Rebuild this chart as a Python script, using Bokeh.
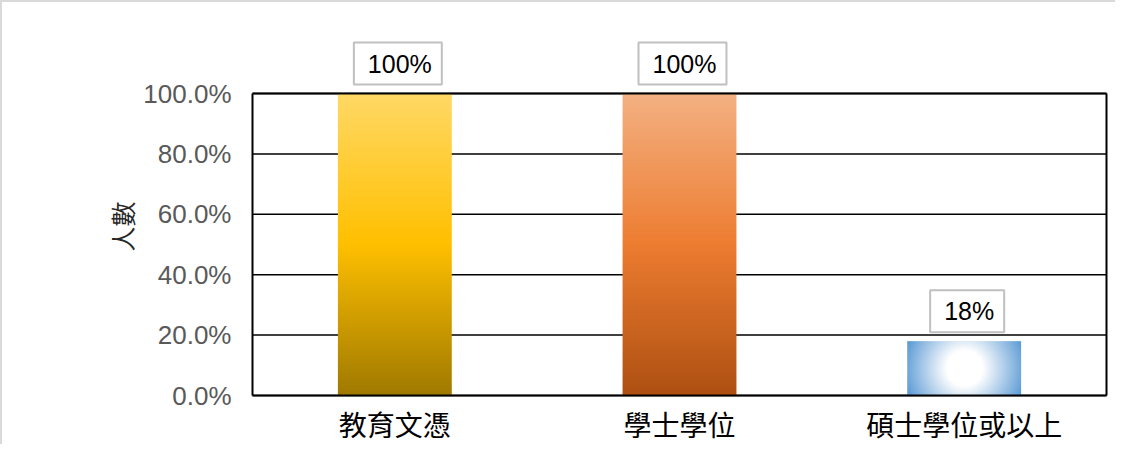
import numpy as np
from bokeh.plotting import figure
from bokeh.models import Range1d, FixedTicker, NumeralTickFormatter, Label
from bokeh.embed import file_html
from bokeh.resources import INLINE

categories = ["教育文憑", "學士學位", "碩士學位或以上"]
values = [1.00, 1.00, 0.18]
value_labels = ["100%", "100%", "18%"]
y_ticks = [0.0, 0.2, 0.4, 0.6, 0.8, 1.0]
y_axis_title = "人數"

# gradient stops (top, middle, bottom) for bars 1 and 2
grad_stops = [
    [(255, 217, 102), (255, 192, 0), (160, 122, 0)],
    [(244, 177, 131), (237, 125, 49), (174, 80, 18)],
]
radial_edge = (91, 155, 213)

# layout (pixels)
W, H = 1115, 444
FL, FR, FT, FB = 246, 7, 4, 0
PAD_PX = 4          # frame extends this far beyond the drawn box on left/right
BOX_TOP, BOX_BOT = 91, 393   # box top / bottom measured from canvas top
BAR_W = 0.4
n = len(categories)

frame_w = W - FL - FR
unit_x = (frame_w - 2 * PAD_PX) / n
pad_x = PAD_PX / unit_x
unit_y = (BOX_BOT - BOX_TOP) / (y_ticks[-1] - y_ticks[0])
y_end = y_ticks[-1] + (BOX_TOP - FT) / unit_y
y_start = y_ticks[0] - (H - FB - BOX_BOT) / unit_y

p = figure(width=W, height=H, x_range=Range1d(-pad_x, n + pad_x),
           y_range=Range1d(y_start, y_end), output_backend="svg", toolbar_location=None,
           min_border_left=FL, min_border_right=FR, min_border_top=FT, min_border_bottom=FB)
p.styles = {"border-left": "2px solid #d9d9d9", "border-top": "2px solid #d9d9d9"}

# grid lines across the box only
p.segment(x0=[0] * len(y_ticks), x1=[n] * len(y_ticks), y0=y_ticks, y1=y_ticks,
          line_color="black", line_width=1.5)

def vertical_gradient(stops, ny=300):
    t = np.linspace(0, 1, ny)  # 0 bottom -> 1 top
    top, mid, bot = [np.array(s, float) for s in stops]
    cols = np.empty((ny, 3))
    for k, tt in enumerate(t):
        if tt < 0.5:
            f = tt / 0.5
            cols[k] = bot * (1 - f) + mid * f
        else:
            f = (tt - 0.5) / 0.5
            cols[k] = mid * (1 - f) + top * f
    img = np.empty((ny, 1), dtype=np.uint32)
    view = img.view(dtype=np.uint8).reshape((ny, 1, 4))
    view[:, 0, :3] = cols.astype(np.uint8)
    view[:, 0, 3] = 255
    return img

for i in range(2):
    p.image_rgba(image=[vertical_gradient(grad_stops[i])], x=i + 0.5 - BAR_W / 2, y=0,
                 dw=BAR_W, dh=values[i])

# radial gradient bar
px_w = int(round(BAR_W * unit_x))
px_h = max(2, int(round(values[2] * unit_y)))
xx = np.arange(px_w) - (px_w - 1) / 2
yy = np.arange(px_h) - (px_h - 1) / 2
X, Y = np.meshgrid(xx, yy)
R = np.sqrt(X ** 2 + Y ** 2)
tt = np.clip((R - 18) / 44.0, 0, 1)[..., None]
edge = np.array(radial_edge, float)
col = 255 * (1 - tt) + edge * tt
img3 = np.empty((px_h, px_w), dtype=np.uint32)
v3 = img3.view(dtype=np.uint8).reshape((px_h, px_w, 4))
v3[..., :3] = col.astype(np.uint8)
v3[..., 3] = 255
p.image_rgba(image=[img3], x=2 + 0.5 - BAR_W / 2, y=0, dw=BAR_W, dh=values[2])

# box outline
p.segment(x0=[0, n, 0, 0], x1=[0, n, n, n],
          y0=[y_ticks[0], y_ticks[0], y_ticks[0], y_ticks[-1]],
          y1=[y_ticks[-1], y_ticks[-1], y_ticks[0], y_ticks[-1]],
          line_color="black", line_width=2)

for i, (v, t) in enumerate(zip(values, value_labels)):
    p.add_layout(Label(x=i + 0.5, y=v, text=t, text_align="center", text_baseline="bottom",
                       x_offset=3, y_offset=9, text_font="Liberation Sans", text_font_size="25px",
                       text_color="black", background_fill_color="white",
                       border_line_color="#C0C0C0", border_line_width=2,
                       padding=dict(left=14, right=10, top=7, bottom=7)))

for i, c in enumerate(categories):
    p.add_layout(Label(x=i + 0.5, y=0, text=c, text_align="center", text_baseline="middle",
                       y_offset=-28, text_font="Noto Sans CJK TC", text_font_size="28px",
                       text_color="black"))

p.outline_line_color = None
p.xgrid.grid_line_color = None
p.ygrid.grid_line_color = None
p.xaxis.visible = False
p.yaxis.ticker = FixedTicker(ticks=y_ticks)
p.yaxis.formatter = NumeralTickFormatter(format="0.0%")
p.yaxis.axis_label = y_axis_title
p.yaxis.axis_label_text_font = "Noto Sans CJK TC"
p.yaxis.axis_label_text_font_style = "normal"
p.yaxis.axis_label_text_font_size = "25px"
p.yaxis.axis_label_text_color = "#262626"
p.yaxis.axis_label_standoff = 0
p.yaxis.axis_line_color = None
p.yaxis.major_tick_line_color = None
p.yaxis.minor_tick_line_color = None
p.yaxis.major_label_text_font = "Liberation Sans"
p.yaxis.major_label_text_font_size = "26px"
p.yaxis.major_label_text_color = "#595959"
p.yaxis.major_label_standoff = 11

open("out.html", "w").write(file_html(p, INLINE))
